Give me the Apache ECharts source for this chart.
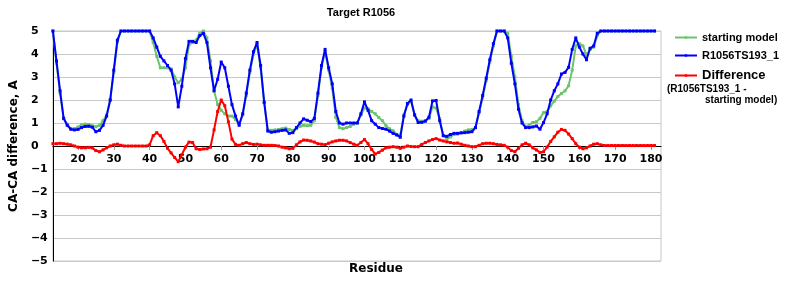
<!DOCTYPE html>
<html><head><meta charset="utf-8">
<script src="https://cdn.jsdelivr.net/npm/echarts@6/dist/echarts.min.js"></script>
<style>html,body{margin:0;padding:0;background:#fff}#c{width:800px;height:300px}</style>
</head><body><div id="c"></div>
<script>
const residues = [13,14,15,16,17,18,19,20,21,22,23,24,25,26,27,28,29,30,31,32,33,34,35,36,37,38,39,40,41,42,43,44,45,46,47,48,49,50,51,52,53,54,55,56,57,58,59,60,61,62,63,64,65,66,67,68,69,70,71,72,73,74,75,76,77,78,79,80,81,82,83,84,85,86,87,88,89,90,91,92,93,94,95,96,97,98,99,100,101,102,103,104,105,106,107,108,109,110,111,112,113,114,115,116,117,118,119,120,121,122,123,124,125,126,127,128,129,130,131,132,133,134,135,136,137,138,139,140,141,142,143,144,145,146,147,148,149,150,151,152,153,154,155,156,157,158,159,160,161,162,163,164,165,166,167,168,169,170,171,172,173,174,175,176,177,178,179,180,181];

const startingModel = [
5.0,3.6,2.3,1.2,0.95,0.75,0.75,0.82,0.92,0.95,0.93,0.88,0.84,0.9,1.1,1.35,2.0,3.2,4.5,
5.0,5.0,5.0,5.0,5.0,5.0,5.0,5.0,5.0,
4.5,3.9,3.4,3.4,3.4,3.35,3.0,2.75,2.9,3.4,4.4,4.5,4.6,4.9,5.0,4.7,3.7,2.4,1.8,1.55,1.4,1.3,1.3,1.15,0.95,1.35,2.2,3.2,4.0,
4.4,3.4,1.9,0.7,0.68,0.7,0.72,0.75,0.78,0.72,0.68,0.75,0.85,0.9,0.88,0.9,1.1,2.2,3.4,4.1,3.3,2.5,1.25,0.8,0.75,0.8,0.85,0.95,1.0,1.35,
1.65,1.62,1.5,1.4,1.24,1.1,0.88,0.75,0.66,0.5,0.47,1.35,1.8,1.95,1.35,1.1,1.08,1.1,1.2,1.7,1.65,1.2,0.45,0.3,0.4,0.5,0.52,0.58,0.65,0.7,0.72,
0.8,1.45,2.1,2.85,3.65,4.35,5.0,5.0,5.0,4.9,3.9,3.0,1.8,1.1,0.85,0.92,1.02,1.05,1.2,1.45,1.5,1.75,1.95,2.15,2.28,2.4,2.62,3.3,4.35,4.45,4.35,3.95,4.2,4.3,4.8,
5.0,5.0,5.0,5.0,5.0,5.0,5.0,5.0,5.0,5.0,5.0,5.0,5.0,5.0,5.0,5.0];

const model193 = [
5.0,3.7,2.4,1.2,0.9,0.73,0.7,0.72,0.8,0.85,0.86,0.82,0.62,0.68,0.9,1.3,2.0,3.3,4.6,
5.0,5.0,5.0,5.0,5.0,5.0,5.0,5.0,5.0,
4.7,4.3,3.9,3.7,3.5,3.3,2.7,1.7,2.6,3.8,4.55,4.55,4.5,4.8,4.9,4.5,3.4,2.4,2.9,3.65,3.4,2.6,1.8,1.3,0.9,1.4,2.3,3.3,4.1,
4.5,3.5,1.9,0.65,0.6,0.62,0.65,0.68,0.7,0.55,0.58,0.8,1.0,1.18,1.12,1.06,1.2,2.3,3.5,4.2,3.4,2.7,1.5,1.0,0.95,1.0,1.0,1.0,1.0,1.4,
1.92,1.55,1.1,0.95,0.8,0.76,0.73,0.65,0.55,0.48,0.38,1.3,1.85,2.0,1.35,1.02,1.03,1.08,1.25,1.96,1.98,1.1,0.45,0.42,0.5,0.55,0.55,0.57,0.58,0.6,0.62,
0.8,1.5,2.2,2.95,3.75,4.45,5.0,5.0,5.0,4.7,3.6,2.7,1.6,1.0,0.8,0.8,0.83,0.87,0.73,1.02,1.4,2.0,2.4,2.7,3.13,3.2,3.42,4.2,4.7,4.3,4.0,3.75,4.25,4.35,4.9,
5.0,5.0,5.0,5.0,5.0,5.0,5.0,5.0,5.0,5.0,5.0,5.0,5.0,5.0,5.0,5.0];

const difference = [
0.1,0.1,0.12,0.1,0.08,0.05,0.0,-0.05,-0.08,-0.08,-0.06,-0.08,-0.2,-0.25,-0.17,-0.08,0.0,0.05,0.08,
0.03,0.0,0.0,0.0,0.0,0.0,0.0,0.0,0.05,
0.45,0.58,0.45,0.2,-0.1,-0.3,-0.5,-0.68,-0.38,-0.05,0.17,0.15,-0.12,-0.15,-0.13,-0.12,-0.05,0.7,1.5,2.0,1.75,1.05,0.3,0.07,0.03,0.1,0.15,0.1,0.07,
0.08,0.05,0.03,0.03,0.03,0.02,0.0,-0.05,-0.08,-0.12,-0.1,0.05,0.18,0.26,0.25,0.22,0.17,0.1,0.08,0.06,0.12,0.18,0.22,0.25,0.25,0.22,0.15,0.08,0.03,0.15,
0.28,0.1,-0.15,-0.35,-0.28,-0.18,-0.08,-0.05,-0.03,-0.05,-0.1,-0.05,0.0,-0.02,-0.03,-0.03,0.07,0.15,0.22,0.28,0.32,0.26,0.22,0.18,0.15,0.12,0.13,0.08,0.03,0.0,-0.03,
-0.03,0.03,0.1,0.12,0.12,0.1,0.07,0.05,0.03,-0.05,-0.2,-0.25,-0.1,0.05,0.12,0.05,-0.08,-0.17,-0.28,-0.25,-0.05,0.2,0.4,0.6,0.72,0.68,0.52,0.32,0.1,-0.05,-0.12,-0.08,0.0,0.08,0.1,
0.05,0.02,0.02,0.02,0.02,0.02,0.02,0.02,0.02,0.02,0.02,0.02,0.02,0.02,0.02,0.02];

const xTicks = [20,30,40,50,60,70,80,90,100,110,120,130,140,150,160,170,180];
const seriesNames = ['starting model','R1056TS193_1','Difference'];
const seriesColors = ['#6cc46c','#0000ff','#ff0000'];

function pairs(vals){ return residues.map((r,i)=>[r, vals[i]]); }
const allVals = [startingModel, model193, difference];

const chart = echarts.init(document.getElementById('c'), null, {renderer:'canvas'});
const ax = "'DejaVu Sans', sans-serif";
const lib = "'Liberation Sans', Arial, sans-serif";
chart.setOption({
  animation:false,
  backgroundColor:'#fff',
  title:{text:'Target R1056', left:356, top:2, textAlign:'center',
    textStyle:{fontFamily:lib, fontSize:11, fontWeight:'bold', color:'#000'}},
  grid:{left:50, right:139, top:31, bottom:39, show:true, borderColor:'#c8c8c8', borderWidth:1},
  legend:[
    {data:[seriesNames[0], seriesNames[1]], orient:'vertical', left:669, top:27, itemWidth:22, itemHeight:3, itemGap:7,
      textStyle:{fontFamily:lib, fontSize:11, fontWeight:'bold', color:'#000'}},
    {data:[seriesNames[2]], orient:'vertical', left:669, top:64, itemWidth:22, itemHeight:3,
      textStyle:{fontFamily:lib, fontSize:13, fontWeight:'bold', color:'#000'}}
  ],
  xAxis:{type:'value', min:13, max:182.8, offset:-115,
    axisLine:{onZero:false, lineStyle:{color:'#000', width:1}},
    axisTick:{customValues:xTicks, length:4, lineStyle:{color:'#999'}},
    axisLabel:{customValues:xTicks, margin:8, fontFamily:ax, fontSize:11, fontWeight:'bold', color:'#000'},
    splitLine:{show:false}},
  yAxis:{type:'value', min:-5, max:5, interval:1,
    name:'CA-CA difference, A', nameLocation:'middle', nameGap:30,
    nameTextStyle:{fontFamily:ax, fontSize:12, fontWeight:'bold', color:'#000'},
    axisLine:{show:true, lineStyle:{color:'#000', width:1}},
    axisTick:{show:false},
    axisLabel:{margin:22, align:'left', fontFamily:ax, fontSize:11, fontWeight:'bold', color:'#000',
      formatter:v=> v<0 ? '\u2212'+Math.abs(v) : String(v)},
    splitLine:{lineStyle:{color:'#c8c8c8', width:1}}},
  graphic:[
    {type:'text', left:349, top:263, style:{text:'Residue', font:"bold 12px 'DejaVu Sans'", fill:'#000'}},
    {type:'text', left:667, top:84, style:{text:'(R1056TS193_1 -', font:"bold 10px 'Liberation Sans'", fill:'#000'}},
    {type:'text', left:705, top:95, style:{text:'starting model)', font:"bold 10px 'Liberation Sans'", fill:'#000'}}
  ],
  series: seriesNames.map((n,i)=>({
    name:n, type:'line', data:pairs(allVals[i]), color:seriesColors[i],
    symbol:'rect', symbolSize:3, showSymbol:true,
    lineStyle:{width: 2}, itemStyle:{color:seriesColors[i]}, z: 2+i
  }))
});
</script></body></html>
